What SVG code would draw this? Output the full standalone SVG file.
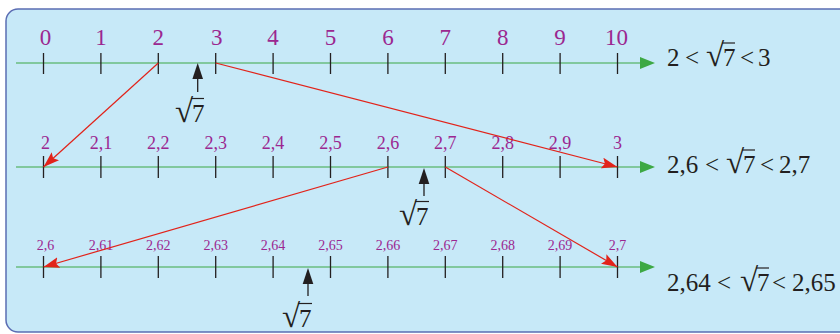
<svg xmlns="http://www.w3.org/2000/svg" width="840" height="334" viewBox="0 0 840 334">
<defs>
<marker id="redHead" markerWidth="17" markerHeight="11" refX="16" refY="5.5" orient="auto" markerUnits="userSpaceOnUse"><path d="M0,0 L16,5.5 L0,11 L3,5.5 Z" fill="#E2231A"/></marker>
</defs>
<style>
text{font-family:'Liberation Serif','Times New Roman',serif}
.axis{stroke:#3DA844;stroke-width:1.2;fill:none}
.ghead{fill:#3DA844}
.tick{stroke:#231F20;stroke-width:1.3}
.lbl text{fill:#9B2790;text-anchor:middle}
.l1 text{font-size:23px}
.l2 text{font-size:18px}
.l3 text{font-size:14px}
.eq text{fill:#231F20;font-size:25px}
.eq text.rad{font-size:33px;text-anchor:end}
.bar{stroke:#231F20;stroke-width:1.2}
.red{stroke:#E2231A;stroke-width:1.2;fill:none;marker-end:url(#redHead)}
.barrow{stroke:#231F20;stroke-width:1.3}
.bhead{fill:#231F20}
</style>
<rect x="6" y="9" width="900" height="323" rx="12" fill="#C7E9F8" stroke="#5B6DB3" stroke-width="1.5"/>

<g id="line1">
<line class="axis" x1="16" y1="63" x2="642" y2="63"/>
<polygon class="ghead" points="640,57 655,63 640,69"/>
<g class="tick">
<line x1="43.5" y1="53" x2="43.5" y2="74"/><line x1="100.9" y1="53" x2="100.9" y2="74"/><line x1="158.3" y1="53" x2="158.3" y2="74"/><line x1="215.7" y1="53" x2="215.7" y2="74"/><line x1="273.1" y1="53" x2="273.1" y2="74"/><line x1="330.5" y1="53" x2="330.5" y2="74"/><line x1="387.9" y1="53" x2="387.9" y2="74"/><line x1="445.3" y1="53" x2="445.3" y2="74"/><line x1="502.7" y1="53" x2="502.7" y2="74"/><line x1="560.1" y1="53" x2="560.1" y2="74"/><line x1="617.5" y1="53" x2="617.5" y2="74"/>
</g>
<g class="lbl l1">
<text x="45.5" y="45">0</text><text x="100.9" y="45">1</text><text x="158.3" y="45">2</text><text x="216.7" y="45">3</text><text x="273.1" y="45">4</text><text x="330.5" y="45">5</text><text x="387.9" y="45">6</text><text x="445.3" y="45">7</text><text x="502.7" y="45">8</text><text x="560.1" y="45">9</text><text x="616.5" y="45">10</text>
</g>
<g class="eq">
<text x="667" y="66">2</text><text x="685" y="66">&lt;</text><text class="rad" x="724" y="66">√</text><text x="723" y="66">7</text><text x="740" y="66">&lt;</text><text x="758" y="66">3</text>
</g>
<line class="bar" x1="722" y1="43" x2="735" y2="43"/>
</g>

<g id="line2">
<line class="axis" x1="16" y1="167" x2="642" y2="167"/>
<polygon class="ghead" points="640,161 655,167 640,173"/>
<g class="tick">
<line x1="43.5" y1="156" x2="43.5" y2="178"/><line x1="100.9" y1="156" x2="100.9" y2="178"/><line x1="158.3" y1="156" x2="158.3" y2="178"/><line x1="215.7" y1="156" x2="215.7" y2="178"/><line x1="273.1" y1="156" x2="273.1" y2="178"/><line x1="330.5" y1="156" x2="330.5" y2="178"/><line x1="387.9" y1="156" x2="387.9" y2="178"/><line x1="445.3" y1="156" x2="445.3" y2="178"/><line x1="502.7" y1="156" x2="502.7" y2="178"/><line x1="560.1" y1="156" x2="560.1" y2="178"/><line x1="617.5" y1="156" x2="617.5" y2="178"/>
</g>
<g class="lbl l2">
<text x="45.5" y="149">2</text><text x="100.9" y="149">2,1</text><text x="158.3" y="149">2,2</text><text x="215.7" y="149">2,3</text><text x="273.1" y="149">2,4</text><text x="330.5" y="149">2,5</text><text x="387.9" y="149">2,6</text><text x="445.3" y="149">2,7</text><text x="502.7" y="149">2,8</text><text x="560.1" y="149">2,9</text><text x="617.5" y="149">3</text>
</g>
<g class="eq">
<text x="667" y="173">2,6</text><text x="705" y="173">&lt;</text><text class="rad" x="744" y="173">√</text><text x="743" y="173">7</text><text x="760" y="173">&lt;</text><text x="779" y="173">2,7</text>
</g>
<line class="bar" x1="742" y1="150" x2="755" y2="150"/>
</g>

<g id="line3">
<line class="axis" x1="16" y1="267" x2="642" y2="267"/>
<polygon class="ghead" points="640,261 655,267 640,273"/>
<g class="tick">
<line x1="43.5" y1="256" x2="43.5" y2="278"/><line x1="100.9" y1="256" x2="100.9" y2="278"/><line x1="158.3" y1="256" x2="158.3" y2="278"/><line x1="215.7" y1="256" x2="215.7" y2="278"/><line x1="273.1" y1="256" x2="273.1" y2="278"/><line x1="330.5" y1="256" x2="330.5" y2="278"/><line x1="387.9" y1="256" x2="387.9" y2="278"/><line x1="445.3" y1="256" x2="445.3" y2="278"/><line x1="502.7" y1="256" x2="502.7" y2="278"/><line x1="560.1" y1="256" x2="560.1" y2="278"/><line x1="617.5" y1="256" x2="617.5" y2="278"/>
</g>
<g class="lbl l3">
<text x="45.5" y="250">2,6</text><text x="100.9" y="250">2,61</text><text x="158.3" y="250">2,62</text><text x="215.7" y="250">2,63</text><text x="273.1" y="250">2,64</text><text x="330.5" y="250">2,65</text><text x="387.9" y="250">2,66</text><text x="445.3" y="250">2,67</text><text x="502.7" y="250">2,68</text><text x="560.1" y="250">2,69</text><text x="617.5" y="250">2,7</text>
</g>
<g class="eq">
<text x="667" y="291">2,64</text><text x="717" y="291">&lt;</text><text class="rad" x="758" y="291">√</text><text x="757" y="291">7</text><text x="772" y="291">&lt;</text><text x="792" y="291">2,65</text>
</g>
<line class="bar" x1="756" y1="268" x2="769" y2="268"/>
</g>

<g id="sqrt7-1">
<line class="barrow" x1="197.7" y1="77" x2="197.7" y2="92"/>
<polygon class="bhead" points="197.7,63 203,79 192.4,79"/>
<g class="eq"><text class="rad" x="193" y="122">√</text><text x="192" y="122">7</text></g>
<line class="bar" x1="191" y1="98.5" x2="204" y2="98.5"/>
</g>
<g id="sqrt7-2">
<line class="barrow" x1="424" y1="182" x2="424" y2="196"/>
<polygon class="bhead" points="424,168 429.3,184 418.7,184"/>
<g class="eq"><text class="rad" x="417" y="225">√</text><text x="416" y="225">7</text></g>
<line class="bar" x1="415" y1="201.5" x2="429" y2="201.5"/>
</g>
<g id="sqrt7-3">
<line class="barrow" x1="308" y1="282" x2="308" y2="296"/>
<polygon class="bhead" points="308,268 313.3,284 302.7,284"/>
<g class="eq"><text class="rad" x="300" y="327">√</text><text x="299" y="327">7</text></g>
<line class="bar" x1="298" y1="303.5" x2="312" y2="303.5"/>
</g>

<g id="connectors">
<line class="red" x1="158.3" y1="63" x2="43.5" y2="167"/>
<line class="red" x1="215.7" y1="63" x2="617.5" y2="167"/>
<line class="red" x1="387.9" y1="167" x2="43.5" y2="267"/>
<line class="red" x1="445.3" y1="167" x2="617.5" y2="267"/>
</g>
</svg>
